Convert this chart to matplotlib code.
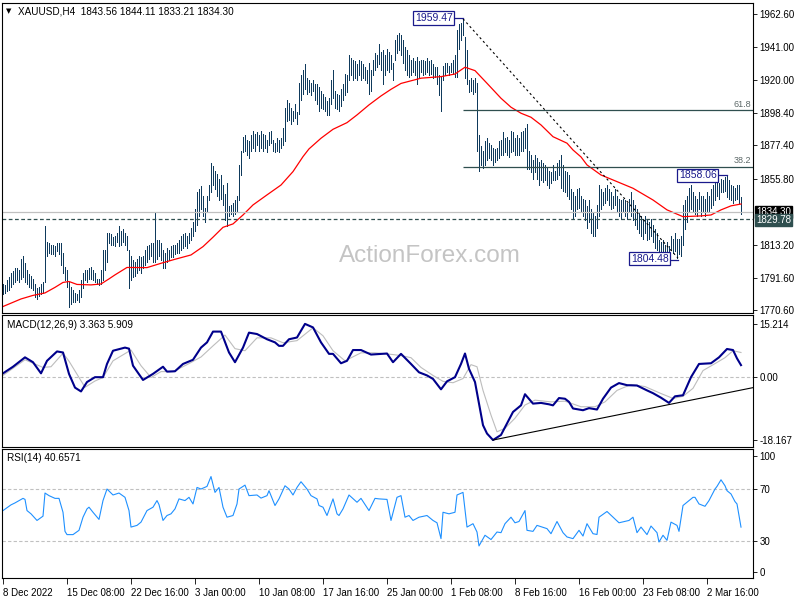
import matplotlib.pyplot as plt

# H4 bar highs and lows, one value per bar (oldest first)
highs = [
    1788, 1787, 1790, 1792, 1795, 1796, 1798, 1798, 1797, 1804,
    1806, 1801, 1797, 1794, 1793, 1791, 1788, 1785, 1786, 1788,
    1789, 1825, 1815, 1814, 1813, 1813, 1812, 1814, 1814, 1814,
    1808, 1799, 1797, 1789, 1786, 1784, 1782, 1781, 1784, 1790,
    1795, 1797, 1797, 1798, 1799, 1797, 1795, 1791, 1791, 1797,
    1810, 1810, 1821, 1821, 1820, 1818, 1819, 1821, 1825, 1822,
    1823, 1821, 1819, 1810, 1806, 1803, 1802, 1804, 1806, 1805,
    1806, 1810, 1812, 1813, 1814, 1814, 1834, 1816, 1816, 1814,
    1810, 1808, 1811, 1810, 1812, 1813, 1813, 1814, 1816, 1819,
    1820, 1821, 1819, 1821, 1824, 1828, 1836, 1847, 1849, 1851,
    1845, 1837, 1845, 1852, 1866, 1864, 1861, 1859, 1856, 1858,
    1852, 1846, 1853, 1838, 1839, 1840, 1842, 1845, 1865, 1874,
    1883, 1884, 1881, 1880, 1884, 1887, 1885, 1886, 1884, 1887,
    1885, 1884, 1881, 1886, 1887, 1881, 1879, 1882, 1881, 1882,
    1889, 1902, 1907, 1905, 1902, 1900, 1904, 1899, 1918, 1923,
    1926, 1930, 1921, 1920, 1918, 1920, 1917, 1917, 1915, 1913,
    1911, 1909, 1906, 1908, 1920, 1926, 1913, 1911, 1910, 1914,
    1917, 1924, 1923, 1936, 1934, 1933, 1932, 1930, 1933, 1932,
    1930, 1928, 1926, 1931, 1926, 1933, 1937, 1936, 1943, 1938,
    1939, 1936, 1940, 1938, 1936, 1931, 1946, 1949, 1950, 1949,
    1946, 1941, 1939, 1936, 1933, 1934, 1932, 1935, 1932, 1933,
    1933, 1932, 1934, 1932, 1933, 1930, 1928, 1928, 1923, 1922,
    1929, 1931, 1931, 1929, 1931, 1933, 1936, 1952, 1956, 1957,
    1959.47, 1948, 1939, 1920, 1921, 1920, 1921, 1918, 1884, 1877,
    1874, 1880, 1882, 1879, 1878, 1876, 1875, 1876, 1880, 1881,
    1886, 1882, 1883, 1881, 1887, 1886, 1882, 1884, 1882, 1886,
    1887, 1889, 1891, 1874, 1871, 1868, 1871, 1869, 1867, 1868,
    1866, 1865, 1863, 1861, 1860, 1865, 1861, 1866, 1868, 1871,
    1865, 1861, 1860, 1858, 1849, 1847, 1845, 1849, 1850, 1845,
    1843, 1842, 1838, 1842, 1836, 1834, 1832, 1839, 1852, 1849,
    1847, 1850, 1852, 1849, 1847, 1845, 1849, 1845, 1843, 1842,
    1843, 1842, 1840, 1843, 1847, 1842, 1839, 1836, 1834, 1832,
    1830, 1832, 1829, 1828, 1830, 1826, 1823, 1821, 1816, 1815,
    1816, 1813, 1815, 1812, 1819, 1817, 1821, 1817, 1817, 1819,
    1839, 1842, 1845, 1850, 1852, 1847, 1845, 1843, 1847, 1845,
    1845, 1843, 1847, 1845, 1849, 1852, 1854, 1855, 1853, 1856,
    1855, 1857, 1858.06, 1855, 1852, 1851, 1850, 1852, 1852, 1844.11,
]
lows = [
    1781, 1782, 1783, 1784, 1786, 1788, 1789, 1790, 1789, 1791,
    1792, 1789, 1788, 1786, 1785, 1784, 1779, 1778, 1780, 1781,
    1782, 1789, 1806, 1808, 1807, 1807, 1806, 1809, 1807, 1800,
    1795, 1790, 1786, 1773, 1775, 1776, 1776, 1777, 1776, 1779,
    1785, 1790, 1789, 1791, 1791, 1790, 1789, 1788, 1787, 1788,
    1790, 1797, 1802, 1814, 1813, 1813, 1812, 1815, 1812, 1813,
    1815, 1813, 1810, 1785, 1790, 1792, 1793, 1795, 1797, 1795,
    1798, 1800, 1802, 1804, 1806, 1802, 1802, 1804, 1806, 1803,
    1798, 1798, 1802, 1803, 1805, 1805, 1807, 1808, 1808, 1810,
    1811, 1812, 1811, 1814, 1816, 1819, 1822, 1826, 1832, 1836,
    1832, 1828, 1834, 1842, 1847, 1852, 1849, 1845, 1842, 1843,
    1839, 1829, 1825, 1832, 1833, 1832, 1833, 1834, 1842, 1858,
    1873, 1874, 1871, 1869, 1874, 1876, 1874, 1878, 1874, 1876,
    1874, 1876, 1873, 1878, 1879, 1874, 1873, 1874, 1873, 1876,
    1878, 1880, 1893, 1894, 1891, 1893, 1895, 1891, 1898, 1907,
    1911, 1914, 1911, 1912, 1910, 1913, 1907, 1904, 1900, 1902,
    1901, 1900, 1897, 1897, 1904, 1908, 1902, 1901, 1900, 1903,
    1907, 1910, 1912, 1920, 1923, 1920, 1921, 1920, 1923, 1920,
    1921, 1920, 1918, 1911, 1913, 1923, 1926, 1928, 1930, 1926,
    1917, 1923, 1926, 1925, 1927, 1920, 1933, 1937, 1939, 1936,
    1931, 1926, 1923, 1922, 1923, 1925, 1923, 1917, 1921, 1925,
    1923, 1924, 1925, 1923, 1924, 1921, 1922, 1917, 1910, 1900,
    1920, 1923, 1925, 1923, 1925, 1924, 1922, 1922, 1940, 1946,
    1949, 1921, 1917, 1912, 1913, 1911, 1912, 1874, 1861, 1865,
    1863, 1865, 1868, 1869, 1868, 1865, 1867, 1868, 1869, 1871,
    1871, 1873, 1871, 1870, 1873, 1874, 1871, 1871, 1871, 1874,
    1874, 1876, 1862, 1862, 1860, 1856, 1860, 1856, 1852, 1855,
    1854, 1855, 1852, 1850, 1853, 1855, 1855, 1856, 1858, 1850,
    1848, 1847, 1845, 1843, 1836, 1830, 1832, 1836, 1837, 1834,
    1832, 1829, 1824, 1828, 1821, 1819, 1819, 1824, 1832, 1836,
    1839, 1840, 1842, 1839, 1836, 1837, 1839, 1834, 1832, 1830,
    1834, 1832, 1830, 1834, 1832, 1829, 1826, 1823, 1821, 1819,
    1817, 1821, 1816, 1817, 1819, 1815, 1811, 1810, 1807, 1806,
    1806, 1805, 1806, 1806, 1810, 1808, 1809, 1804.48, 1807, 1806,
    1813, 1823, 1828, 1834, 1836, 1834, 1833, 1832, 1836, 1832,
    1834, 1832, 1834, 1835, 1837, 1839, 1842, 1845, 1843, 1847,
    1847, 1848, 1844, 1843, 1842, 1840, 1842, 1843, 1840, 1833.21,
]

# red moving average, sampled along the line (bar index, price)
ma_bar = [0, 9, 15, 21, 26, 30, 33, 37, 44, 49, 53, 56, 62, 72, 79, 86, 94, 100,
          105, 110, 115, 120, 125, 132, 139, 145, 150, 153, 159, 165, 172, 177,
          183, 189, 194, 199, 209, 219, 226, 231, 236, 242, 249, 254, 259, 264,
          269, 275, 282, 285, 289, 292, 299, 307, 315, 325, 332, 340, 349, 354,
          359, 364, 369]
ma_val = [1773.1, 1778.0, 1780.3, 1781.9, 1785.5, 1788.7, 1789.3, 1787.4, 1787.1,
          1787.7, 1791.0, 1793.6, 1798.4, 1798.3, 1801.1, 1803.7, 1806.5, 1811.9,
          1818.0, 1824.4, 1826.6, 1832.4, 1838.9, 1845.4, 1851.8, 1860.5, 1870.2,
          1875.2, 1882.1, 1887.9, 1892.2, 1897.2, 1903.7, 1909.5, 1913.8, 1917.6,
          1921.0, 1922.0, 1923.7, 1928.1, 1925.9, 1917.7, 1908.0, 1902.2, 1898.3,
          1895.7, 1890.7, 1883.1, 1878.9, 1874.5, 1870.0, 1864.8, 1858.3, 1854.0,
          1849.7, 1842.1, 1835.7, 1831.3, 1831.8, 1832.4, 1835.7, 1838.3, 1839.5]

# MACD(12,26,9) main and signal lines
macd_bar = [0, 5, 11, 15, 19, 22, 27, 30, 33, 36, 39, 42, 46, 50, 52, 55, 61, 63,
            65, 70, 75, 80, 82, 86, 90, 95, 99, 102, 105, 109, 113, 116, 120, 123,
            127, 132, 136, 138, 140, 143, 147, 151, 155, 159, 163, 165, 169, 172,
            175, 179, 184, 192, 195, 199, 204, 208, 212, 215, 219, 222, 226, 229,
            231, 233, 236, 238, 240, 242, 245, 249, 252, 255, 259, 261, 265, 269,
            273, 275, 278, 281, 283, 285, 290, 293, 297, 300, 304, 308, 312, 317,
            322, 325, 329, 333, 336, 340, 344, 348, 354, 358, 362, 365, 367, 369]
macd_val = [1.0, 2.9, 5.6, 4.2, 1.0, 4.6, 7.3, 7.0, 0.85, -3.1, -4.2, -1.5, -0.1,
            -0.1, 3.7, 7.5, 8.4, 8.1, 3.2, -0.9, 0.85, 2.9, 1.5, 1.6, 3.7, 4.9,
            8.4, 9.9, 13.0, 13.0, 7.0, 4.2, 8.4, 12.7, 12.3, 10.8, 9.9, 8.9, 8.9,
            10.8, 11.3, 15.214, 14.2, 9.9, 6.6, 6.6, 3.9, 4.6, 7.7, 7.7, 6.4, 6.7,
            4.2, 6.6, 3.7, 1.3, 0.4, -0.6, -3.6, -1.3, -0.1, 3.7, 6.7, 2.3, -1.5,
            -7.7, -13.9, -16.3, -18.167, -16.7, -13.4, -10.1, -8.2, -5.0, -7.7,
            -7.5, -7.9, -8.2, -6.1, -6.3, -7.2, -9.1, -9.6, -9.0, -9.4, -6.3, -3.1,
            -1.8, -2.4, -2.5, -3.9, -4.7, -6.0, -7.5, -5.6, -5.3, -0.1, 3.7, 3.9,
            5.6, 8.0, 7.7, 5.3, 3.363]
signal_bar = [0, 11, 20, 24, 30, 33, 41, 46, 50, 55, 64, 69, 74, 79, 85, 92, 99,
              105, 111, 116, 121, 127, 134, 140, 147, 155, 160, 165, 171, 179, 186,
              195, 199, 204, 209, 215, 220, 225, 230, 234, 237, 240, 244, 247, 251,
              256, 261, 266, 274, 281, 289, 296, 301, 307, 314, 321, 329, 335, 340,
              345, 350, 356, 361, 365, 369]
signal_val = [0.4, 4.9, 2.7, 2.9, 6.8, 4.5, -3.0, -1.2, -0.2, 4.6, 7.7, 3.2, -0.2,
              1.5, 1.5, 3.5, 5.7, 8.9, 12.0, 8.1, 7.5, 11.2, 11.2, 9.8, 10.4, 14.1,
              11.8, 7.5, 4.6, 6.9, 6.9, 6.4, 6.1, 5.5, 2.7, 0.4, -1.3, -1.7, -0.5,
              3.5, 2.9, -3.9, -11.0, -15.8, -14.8, -11.9, -8.1, -6.7, -7.2, -7.0,
              -8.6, -8.6, -7.2, -3.9, -2.2, -2.8, -4.8, -6.2, -5.6, -3.3, 1.8, 3.8,
              5.5, 7.5, 7.0]

# RSI(14)
rsi_bar = [0, 4, 6, 10, 11, 12, 14, 17, 20, 21, 23, 26, 28, 30, 31, 32, 35, 38, 40,
           42, 43, 45, 48, 50, 52, 55, 58, 61, 63, 64, 67, 69, 72, 75, 77, 78, 80,
           82, 84, 86, 88, 91, 93, 95, 97, 99, 102, 104, 106, 108, 110, 112, 115,
           117, 118, 121, 123, 127, 129, 132, 133, 136, 138, 141, 143, 145, 147,
           149, 152, 154, 157, 158, 160, 162, 165, 167, 168, 170, 173, 177, 179,
           183, 186, 188, 192, 194, 197, 199, 201, 203, 205, 208, 212, 215, 217,
           219, 220, 223, 226, 227, 230, 232, 235, 237, 238, 241, 244, 247, 249,
           251, 254, 256, 258, 261, 262, 265, 267, 272, 274, 277, 280, 282, 285,
           288, 290, 292, 295, 297, 298, 302, 305, 308, 313, 315, 317, 319, 322,
           324, 327, 328, 330, 332, 334, 337, 338, 340, 342, 345, 346, 348, 351,
           353, 356, 357, 359, 361, 362, 364, 366, 367, 369]
rsi_val = [53.4, 57.8, 59.3, 62.8, 62.0, 53.4, 50.9, 45.8, 49.1, 66.9, 64.9, 62.8,
           62.8, 52.1, 37.4, 34.9, 34.9, 38.2, 48.3, 54.7, 56.0, 52.1, 46.6, 61.1,
           70.0, 65.4, 66.9, 63.6, 53.4, 40.7, 42.0, 44.5, 53.4, 56.0, 61.1, 58.0,
           45.8, 49.6, 50.9, 54.7, 62.4, 61.1, 63.6, 58.5, 71.2, 70.0, 72.0, 79.6,
           67.4, 71.2, 56.0, 48.3, 49.6, 58.5, 70.0, 73.0, 64.9, 65.4, 63.0, 64.9,
           68.7, 57.3, 62.4, 72.5, 70.0, 65.4, 71.2, 75.6, 70.0, 64.9, 62.4, 57.3,
           56.0, 49.6, 62.4, 50.9, 49.6, 54.7, 65.4, 59.8, 62.8, 53.4, 62.8, 62.4,
           62.0, 45.8, 63.6, 64.9, 48.3, 49.6, 45.8, 48.3, 49.6, 45.8, 44.0, 31.8,
           52.1, 50.9, 52.1, 65.4, 67.4, 40.7, 43.3, 36.9, 26.2, 34.4, 31.1, 36.9,
           36.4, 43.3, 48.3, 44.0, 45.0, 53.4, 38.2, 37.4, 42.0, 39.5, 35.6, 45.0,
           36.4, 33.1, 31.8, 38.2, 33.8, 43.3, 35.6, 35.0, 48.3, 52.7, 48.3, 44.0,
           45.8, 48.3, 36.4, 40.7, 34.9, 41.5, 36.4, 29.2, 34.4, 30.5, 44.5, 42.0,
           37.4, 57.3, 59.8, 63.6, 63.6, 58.5, 56.7, 61.1, 70.0, 72.0, 77.1, 72.5,
           68.7, 66.2, 60.3, 58.5, 40.66]

date_bar = [0, 32, 64, 96, 128, 160, 192, 224, 256, 288, 320, 352]
date_labels = ['8 Dec 2022', '15 Dec 08:00', '22 Dec 16:00', '3 Jan 00:00',
               '10 Jan 08:00', '17 Jan 16:00', '25 Jan 00:00', '1 Feb 08:00',
               '8 Feb 16:00', '16 Feb 00:00', '23 Feb 08:00', '2 Mar 16:00']
price_ticks = [1962.60, 1941.00, 1920.00, 1898.40, 1877.40, 1855.80, 1813.20,
               1791.60, 1770.60]

swing_high = 1959.47
swing_low = 1804.48
last_high = 1858.06
bid = 1834.30
support = 1829.78

W, H = 800, 600
FONT = ['Liberation Sans', 'DejaVu Sans']
plt.rcParams['font.family'] = FONT
plt.rcParams['font.size'] = 7


def place(x0, y0, x1, y1):
    return [x0 / W, 1 - y1 / H, (x1 - x0) / W, (y1 - y0) / H]


fig = plt.figure(figsize=(8, 6), dpi=100)
ax1 = fig.add_axes(place(2, 3, 753, 313))
ax2 = fig.add_axes(place(2, 315, 753, 447))
ax3 = fig.add_axes(place(2, 449, 753, 578))

for ax in (ax1, ax2, ax3):
    ax.set_xlim(-0.5, 375)
    ax.yaxis.tick_right()
    ax.tick_params(axis='y', length=3, pad=1.5, labelsize=7, width=0.6)
    for s in ax.spines.values():
        s.set_linewidth(0.8)
        s.set_color('black')
for ax in (ax1, ax2):
    ax.set_xticks([])

# --- price panel
bars = range(len(highs))
ax1.vlines(bars, lows, highs, color='#0f3a5c', lw=0.72, antialiased=False)
ax1.plot(ma_bar, ma_val, color='red', lw=0.9)
ax1.set_ylim(1768.9, 1969.7)
ax1.set_yticks(price_ticks)
ax1.set_yticklabels(['%.2f' % p for p in price_ticks])

ax1.axhline(bid, color='#c0c0c0', lw=0.9)
ax1.axhline(support, color='#2f4f4f', lw=0.9, ls=(0, (3, 2)))

# fibonacci retracement levels
fib_start = 230
for lvl in (61.8, 38.2):
    p = swing_low + lvl / 100 * (swing_high - swing_low)
    ax1.hlines(p, fib_start, 375, color='#2f4f4f', lw=0.9)
    ax1.text(374, p + 0.8, '%.1f' % lvl, ha='right', va='bottom', fontsize=6.5,
             color='#5c6868')

# dashed swing line
ax1.plot([230, 337.5], [swing_high, swing_low], color='black', lw=0.8,
         ls=(0, (2, 2.5)))

box_kw = dict(boxstyle='square,pad=0.15', fc='white', ec='#1a1a8c', lw=0.9)
ax1.text(224.8, 1960.0, '%.2f' % swing_high, ha='right', va='center', color='#1a1a8c',
         fontsize=7.5, bbox=box_kw)
ax1.plot([225, 230], [1960.0, 1960.0], color='#1a1a8c', lw=0.9)
ax1.text(356.8, last_high, '%.2f' % last_high, ha='right', va='center', color='#1a1a8c',
         fontsize=7.5, bbox=box_kw)
ax1.plot([357, 362], [last_high, last_high], color='#1a1a8c', lw=0.9)
ax1.text(332.8, swing_low - 0.4, '%.2f' % swing_low, ha='right', va='center',
         color='#1a1a8c', fontsize=7.5, bbox=box_kw)
ax1.plot([333, 337.5], [swing_low - 1.4, swing_low - 1.4], color='#1a1a8c', lw=0.9)

ax1.text(213.5, 1801.9, 'ActionForex.com', ha='center', va='baseline', fontsize=17.5,
         color='#c4c4c4', zorder=0)

# current price / support price tags on the axis
ax1.text(1.004, bid, '%.2f' % bid, transform=ax1.get_yaxis_transform(), ha='left',
         va='center', color='white', fontsize=7, clip_on=False, zorder=5,
         bbox=dict(boxstyle='square,pad=0.12', fc='black', ec='black'))
ax1.text(1.004, support - 0.6, '%.2f' % support, transform=ax1.get_yaxis_transform(),
         ha='left', va='center', color='white', fontsize=7, clip_on=False, zorder=6,
         bbox=dict(boxstyle='square,pad=0.12', fc='#2f4f4f', ec='#2f4f4f'))

# --- MACD panel
ax2.set_ylim(-20.17, 17.77)
ax2.axhline(0, color='#c0c0c0', lw=0.8, ls=(0, (3, 2)))
ax2.plot(signal_bar, signal_val, color='#bdbdbd', lw=0.8)
ax2.plot(macd_bar, macd_val, color='#00008b', lw=1.5)
ax2.plot([245, 375.5], [-18.167, -3.05], color='black', lw=0.8)
ax2.set_yticks([15.214, 0, -18.167])
ax2.set_yticklabels(['15.214', '0.00', '-18.167'])

# --- RSI panel
ax3.set_ylim(1.5, 100.8)
ax3.axhline(70, color='#c0c0c0', lw=0.8, ls=(0, (3, 2)))
ax3.axhline(30, color='#c0c0c0', lw=0.8, ls=(0, (3, 2)))
ax3.plot(rsi_bar, rsi_val, color='#1e90ff', lw=0.8)
ax3.set_yticks([95.4, 70, 30, 6.1])
ax3.set_yticklabels(['100', '70', '30', '0'])
ax3.set_xticks(date_bar)
ax3.set_xticklabels(date_labels)
ax3.tick_params(axis='x', length=4, pad=3, labelsize=7, width=0.6)
for lab in ax3.get_xticklabels():
    lab.set_horizontalalignment('left')

# panel captions
fig.text(6 / W, 1 - 11 / H, '\u25bc', fontsize=5, family='DejaVu Sans', va='center')
fig.text(18 / W, 1 - 11 / H, 'XAUUSD,H4  1843.56 1844.11 1833.21 1834.30', fontsize=7.2,
         va='center')
fig.text(7 / W, 1 - 325 / H, 'MACD(12,26,9) 3.363 5.909', fontsize=7.2, va='center')
fig.text(7 / W, 1 - 458 / H, 'RSI(14) 40.6571', fontsize=7.2, va='center')

fig.savefig('out.png', dpi=100)
